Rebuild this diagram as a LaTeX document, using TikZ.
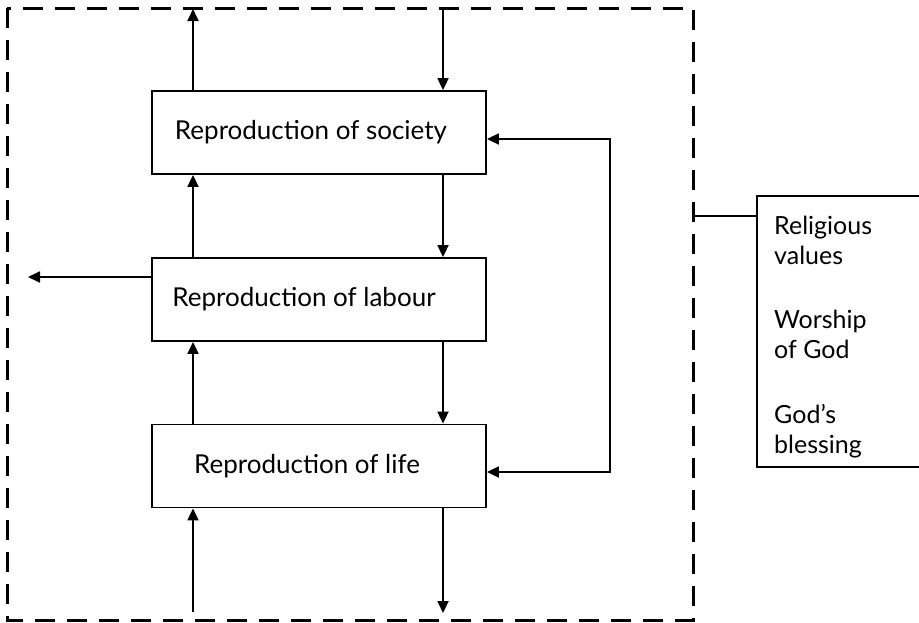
\documentclass[tikz,border=0pt]{standalone}
\usepackage{fontspec}
\setmainfont{Lato}
\usetikzlibrary{arrows.meta}

\tikzset{
  boite/.style={draw,line width=1.8pt,minimum width=334pt,minimum height=83pt,
    inner sep=0pt,font=\fontsize{26}{30}\selectfont},
  fleche/.style={line width=1.8pt,-{Triangle[length=12pt,width=11pt]}},
  doublefleche/.style={line width=1.8pt,{Triangle[length=12pt,width=11pt]}-{Triangle[length=12pt,width=11pt]}},
  cadre/.style={line width=3pt,dash pattern=on 20pt off 12pt},
  texte/.style={anchor=west,align=left,inner sep=0pt,font=\fontsize{25}{30}\selectfont}
}

\begin{document}
\begin{tikzpicture}[x=1pt,y=-1pt]

\useasboundingbox (0,0) rectangle (919,622) ;
\clip (0,0) rectangle (919,622) ;

% cadre

\draw[cadre] (7,8) rectangle (693,620) ;

% boites

\node[boite] (societe) at (319,132.5) {\hspace*{-16pt}Reproduction of society} ;
\node[boite] (travail) at (319,299.5) {\hspace*{-30pt}Reproduction of labour} ;
\node[boite] (vie) at (319,466) {\hspace*{-24pt}Reproduction of life} ;

\coordinate (g) at (193,0) ;
\coordinate (d) at (443,0) ;

% fleches verticales

\coordinate (haut_g) at (193,9) ;
\coordinate (haut_d) at (443,8) ;
\coordinate (bas_g) at (193,612) ;
\coordinate (bas_d) at (443,613) ;

\draw[fleche] (societe.north -| g) -- (haut_g) ;
\draw[fleche] (haut_d) -- (societe.north -| d) ;
\draw[fleche] (travail.north -| g) -- (societe.south -| g) ;
\draw[fleche] (societe.south -| d) -- (travail.north -| d) ;
\draw[fleche] (vie.north -| g) -- (travail.south -| g) ;
\draw[fleche] (travail.south -| d) -- (vie.north -| d) ;
\draw[fleche] (bas_g) -- (vie.south -| g) ;
\draw[fleche] (vie.south -| d) -- (bas_d) ;

% autres fleches

\coordinate (gauche) at (28,277) ;
\draw[fleche] (travail.west |- gauche) -- (gauche) ;

\coordinate (retour_h) at (610,139) ;
\coordinate (retour_b) at (610,472) ;
\draw[doublefleche] (societe.east |- retour_h) -- (retour_h) -- (retour_b) -- (vie.east |- retour_b) ;

% valeurs religieuses

\node[draw,line width=1.8pt,anchor=north west,minimum width=200pt,minimum height=271pt,inner sep=0pt] (valeurs) at (756,195) {} ;
\coordinate (lien) at (693,216) ;
\draw[line width=1.8pt] (lien) -- (valeurs.west |- lien) ;

\node[texte] (religieux) at (774,240) {Religious\\values} ;
\node[texte] (culte) at (774,334) {Worship\\of God} ;
\node[texte] (benediction) at (774,431) {God’s\\blessing} ;

\end{tikzpicture}
\end{document}
